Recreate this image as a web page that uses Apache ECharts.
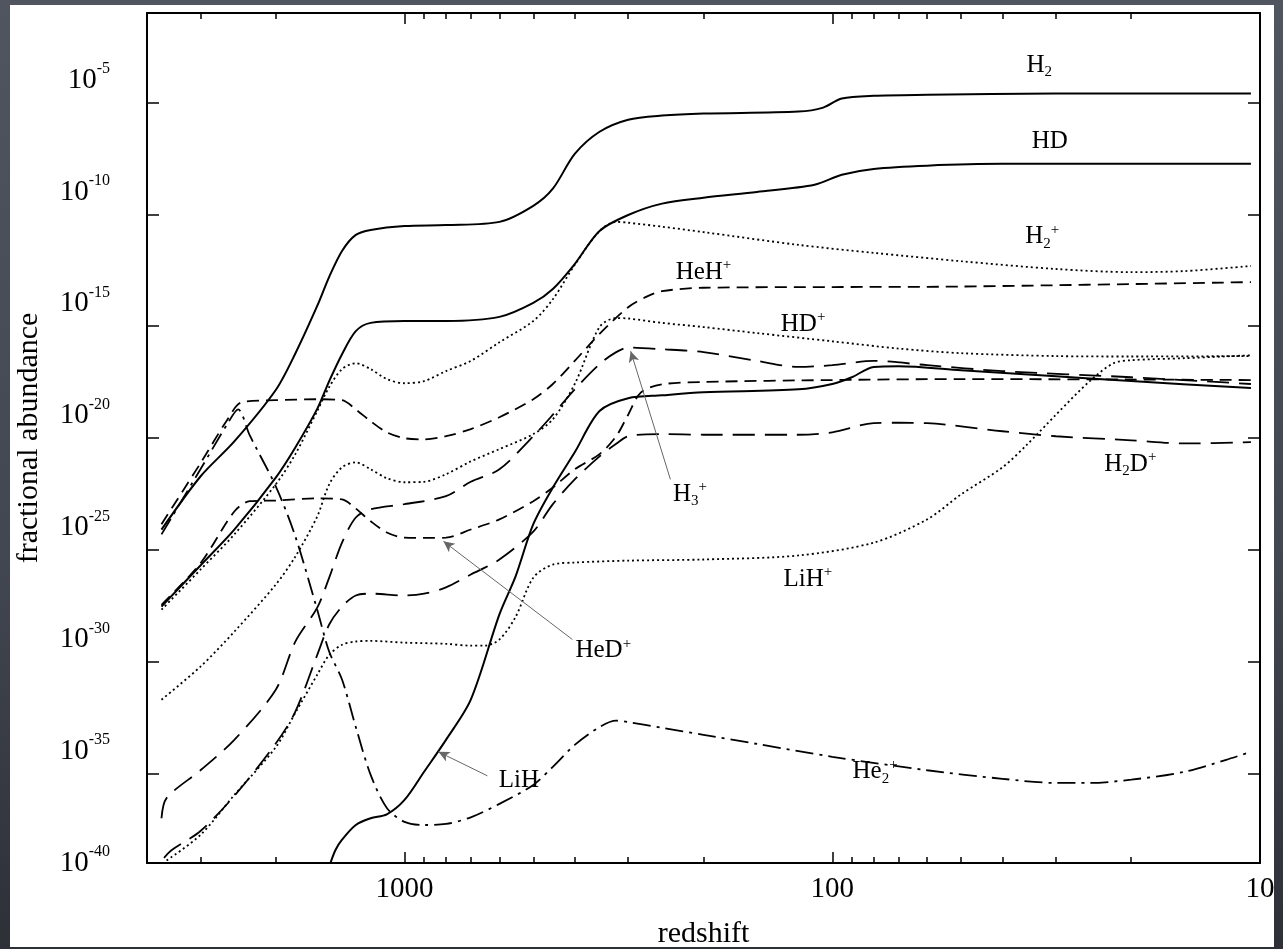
<!DOCTYPE html>
<html><head><meta charset="utf-8">
<script src="https://cdn.jsdelivr.net/npm/echarts@6/dist/echarts.min.js"></script>
<style>
html,body{margin:0;padding:0;width:1283px;height:949px;overflow:hidden;background:linear-gradient(to bottom,#50555f 0%,#424650 60%,#2d3037 100%);}
#panel{position:absolute;left:10px;top:5px;width:1264px;height:942px;background:#fff;}
#chart{position:absolute;left:0;top:0;width:1283px;height:949px;}
</style></head><body><div id="panel"></div><div id="chart"></div>
<script>
// ---- data: [redshift, fractional abundance] ----
const H2 = [[3700,8e-26],[3000,1.9e-23],[2500,7e-22],[2000,1.4e-19],[1800,6e-18],[1600,8e-16],[1500,1.6e-14],[1400,2.3e-13],[1300,1.2e-12],[1200,2e-12],[1000,3e-12],[800,3.3e-12],[600,4.6e-12],[500,2.4e-11],[450,1.4e-10],[400,5e-9],[350,4.9e-8],[300,1.7e-7],[250,2.6e-7],[200,3.2e-7],[120,3.9e-7],[105,5.9e-7],[95,1.5e-6],[80,2e-6],[60,2.2e-6],[30,2.5e-6],[10.5,2.5e-6]];
const HD = [[3700,2.9e-29],[3000,2e-27],[2500,8e-26],[2000,1.7e-23],[1800,3.8e-22],[1600,2e-20],[1500,3.5e-19],[1400,5.6e-18],[1300,6e-17],[1200,1.4e-16],[1000,1.7e-16],[800,1.7e-16],[600,2.6e-16],[500,1.1e-15],[450,4.6e-15],[400,6e-14],[350,1.8e-12],[300,9.3e-12],[250,3e-11],[200,5.5e-11],[150,1e-10],[110,2.1e-10],[95,5.9e-10],[80,1.07e-9],[60,1.5e-9],[40,1.8e-9],[10.5,1.8e-9]];
const H2p = [[3700,2.1e-29],[3000,1.3e-27],[2500,4.9e-26],[2000,8.5e-24],[1800,1.9e-22],[1600,1.6e-20],[1500,1.9e-19],[1400,1.2e-18],[1300,2.2e-18],[1200,1.2e-18],[1100,4.3e-19],[1000,2.8e-19],[900,3.5e-19],[800,9.8e-19],[700,2.8e-18],[600,1.9e-17],[500,1.7e-16],[450,1.6e-15],[400,5.5e-14],[350,1.8e-12],[320,4.6e-12],[300,4.2e-12],[250,2.8e-12],[200,1.6e-12],[120,4.3e-13],[80,1.9e-13],[50,8e-14],[30,3.6e-14],[20,2.6e-14],[15,2.9e-14],[10.5,4.9e-14]];
const HeHp = [[3700,1.4e-25],[3000,7.4e-23],[2600,6.2e-21],[2400,4e-20],[2000,4.9e-20],[1600,5.4e-20],[1400,4.9e-20],[1300,1.9e-20],[1200,5.6e-21],[1100,1.8e-21],[1000,9.8e-22],[900,8.7e-22],[800,1.2e-21],[700,2.5e-21],[600,8.5e-21],[500,5.4e-20],[450,2.6e-19],[400,2.8e-18],[350,4.5e-17],[300,7e-16],[270,2.2e-15],[250,3.7e-15],[200,5.2e-15],[100,5.6e-15],[50,5.9e-15],[10.5,9.3e-15]];
const HDp = [[3700,2e-33],[3000,6e-32],[2500,2.2e-30],[2000,2.8e-28],[1800,5e-27],[1600,3.1e-25],[1500,8.5e-24],[1400,4.9e-23],[1300,8.1e-23],[1200,4e-23],[1100,1.6e-23],[1000,1.05e-23],[900,1.1e-23],[800,2.4e-23],[700,9e-23],[600,3.2e-22],[500,1.5e-21],[450,6.9e-21],[400,2.6e-19],[350,9.1e-17],[320,2.3e-16],[300,2.2e-16],[250,1.4e-16],[200,9.1e-17],[150,4.9e-17],[100,2.1e-17],[70,1e-17],[50,6.2e-18],[30,4.6e-18],[20,4.4e-18],[10.5,4.6e-18]];
const H3p = [[3700,1e-38],[3600,8e-38],[3000,1.4e-36],[2500,3.2e-35],[2000,5.6e-33],[1800,7.9e-31],[1600,2.6e-29],[1500,5.7e-28],[1400,2.1e-26],[1300,2.8e-25],[1200,6.5e-25],[1000,1.1e-24],[800,2.5e-24],[700,1.1e-23],[600,4e-23],[500,1.2e-21],[450,1.1e-20],[400,1.5e-19],[350,2e-18],[320,6.9e-18],[300,1.1e-17],[250,9.3e-18],[200,6.9e-18],[150,2.8e-18],[120,1.5e-18],[100,1.8e-18],[80,2.8e-18],[60,1.8e-18],[40,9.8e-19],[20,5.2e-19],[10.5,2.6e-19]];
const H2Dp = [[3650,1.7e-40],[3500,3.8e-40],[3000,2.7e-39],[2500,1e-37],[2000,2.2e-35],[1800,5.8e-34],[1600,2e-31],[1500,4.6e-30],[1400,2.9e-29],[1300,9.1e-29],[1200,1.1e-28],[1000,9.1e-29],[900,1.1e-28],[800,2.1e-28],[700,7.9e-28],[600,3.7e-27],[500,6.6e-26],[450,1.1e-24],[400,1.4e-23],[350,1.5e-22],[320,5.5e-22],[300,1.2e-21],[250,1.5e-21],[200,1.4e-21],[120,1.4e-21],[100,1.8e-21],[80,4.6e-21],[70,4.8e-21],[60,4.6e-21],[40,2e-21],[30,1.2e-21],[20,7.9e-22],[15,5.7e-22],[10.5,6.5e-22]];
const HeDp = [[3700,3.5e-29],[3000,2.5e-27],[2500,5.2e-25],[2300,1.5e-24],[2000,1.6e-24],[1600,2e-24],[1400,1.8e-24],[1300,7e-25],[1200,1.9e-25],[1100,6e-26],[1000,3.5e-26],[900,3.4e-26],[800,3.5e-26],[700,8.1e-26],[600,2.3e-25],[500,1.5e-24],[450,6.1e-24],[400,4e-23],[350,1.9e-22],[320,1.2e-21],[300,1.1e-20],[280,1.1e-19],[250,2.5e-19],[200,3.2e-19],[100,3.9e-19],[50,4.3e-19],[10.5,3.9e-19]];
const LiHp = [[3600,1.3e-40],[3000,1.8e-39],[2500,1.1e-37],[2000,1.5e-35],[1800,5.2e-34],[1600,2.6e-32],[1500,2e-31],[1400,5.7e-31],[1300,8e-31],[1200,8.5e-31],[1000,7.1e-31],[800,6.3e-31],[700,5.2e-31],[650,5.2e-31],[600,9.8e-31],[550,1e-29],[500,5.7e-28],[450,2.2e-27],[400,2.7e-27],[300,3.3e-27],[200,3.7e-27],[120,5.6e-27],[80,2.1e-26],[60,2.3e-25],[50,3e-24],[40,4.9e-23],[35,5.2e-22],[30,1.1e-20],[25,3.5e-19],[22,2.2e-18],[20,3e-18],[15,3.7e-18],[10.5,5e-18]];
const LiH = [[1490,1e-40],[1450,3.8e-40],[1400,1.1e-39],[1300,5e-39],[1200,1e-38],[1100,1.5e-38],[1000,6.6e-38],[900,1.2e-36],[800,3.2e-35],[700,2e-33],[600,1.3e-29],[550,6.5e-28],[500,1.4e-25],[450,6.1e-24],[400,2.3e-22],[350,1.6e-20],[300,6e-20],[250,8.1e-20],[200,1.1e-19],[120,1.5e-19],[100,2.6e-19],[90,5.2e-19],[80,1.5e-18],[70,1.6e-18],[50,1.07e-18],[30,5.7e-19],[20,3.5e-19],[10.5,1.7e-19]];
const He2p = [[3700,4.9e-26],[3000,4e-23],[2600,4e-21],[2450,1.9e-20],[2300,1.3e-21],[2000,6.9e-24],[1800,4e-26],[1600,2.1e-29],[1500,2.8e-31],[1400,1.6e-32],[1300,1.2e-34],[1200,8.7e-37],[1100,2.9e-38],[1000,6.9e-39],[900,5e-39],[800,5.6e-39],[700,1.1e-38],[600,4.4e-38],[500,3.1e-37],[450,2e-36],[400,1.9e-35],[350,1.2e-34],[320,2.3e-34],[300,2e-34],[250,1.1e-34],[200,5.4e-35],[150,2.1e-35],[100,5.6e-36],[60,1.4e-36],[40,5.8e-37],[30,3.8e-37],[25,3.8e-37],[20,5.3e-37],[15,1.2e-36],[12,4.1e-36],[10.5,9.3e-36]];

// ---- axis ticks / labels ----
const xMajor = [10, 100, 1000];
const xMinor = [20,30,40,50,60,70,80,90,200,300,400,500,600,700,800,900,2000,3000];
const yLabelVals = [1e-40,1e-35,1e-30,1e-25,1e-20,1e-15,1e-10,1e-5];
const yTickVals = [1e-36,1e-31,1e-26,1e-21,1e-16,1e-11,1e-6];

// ---- annotations: text, anchor [z, f] ----
const notes = [
  {t:'{b|H}{sub|2}', at:[32.8,4.5e-5]},
  {t:'{b|HD}', at:[31,1.9e-8]},
  {t:'{b|H}{sub|2}{sup|+}', at:[32.3,9.8e-13]},
  {t:'{b|HeH}{sup|+}', at:[200,2.6e-14]},
  {t:'{b|HD}{sup|+}', at:[117,1.2e-16]},
  {t:'{b|H}{sub|3}{sup|+}', at:[215,3e-24]},
  {t:'{b|H}{sub|2}{b|D}{sup|+}', at:[20.1,6.6e-23]},
  {t:'{b|HeD}{sup|+}', at:[343,3.1e-31]},
  {t:'{b|LiH}{sup|+}', at:[114,4.7e-28]},
  {t:'{b|LiH}', at:[540,4.7e-37]},
  {t:'{b|He}{sub|2}{sup|+}', at:[79.4,1.2e-36]}
];
const arrows = [
  [[239,1.4e-23],[296,7.6e-18]],
  [[405,9.8e-31],[811,2.4e-26]],
  [[640,7.9e-37],[833,9.3e-36]]
];

const FF = '"Liberation Serif","Times New Roman",serif';
const INK = '#000';
const styles = {
  solid:{type:'solid',width:2},
  dot:{type:[2,3],width:1.8},
  dash:{type:[12,7],width:1.8},
  ldash:{type:[22,10],width:1.8},
  dashdot:{type:[18,6,3,6],width:1.8}
};
const curves = [
  ['H2',H2,'solid'],['HD',HD,'solid'],['H2+',H2p,'dot'],['HeH+',HeHp,'dash'],
  ['HD+',HDp,'dot'],['H3+',H3p,'ldash'],['H2D+',H2Dp,'ldash'],['HeD+',HeDp,'dash'],
  ['LiH+',LiHp,'dot'],['LiH',LiH,'solid'],['He2+',He2p,'dashdot']
];

const chart = echarts.init(document.getElementById('chart'), null, {renderer:'canvas'});

function xAx(pos, major, labels) {
  return {
    type:'log', logBase:10, inverse:true, min:10, max:4000, position:pos, gridIndex:0,
    axisLine:{show:major, onZero:false, lineStyle:{color:INK,width:2}},
    axisTick:{show:true, inside:true, length: major?11:6, lineStyle:{color:INK,width:1.5}, customValues: major?xMajor:xMinor},
    axisLabel:{show:labels, customValues:xMajor, formatter:v=>String(Math.round(v)), fontFamily:FF, fontSize:29, color:INK, margin:12},
    splitLine:{show:false}, minorTick:{show:false},
    name: labels ? 'redshift' : '', nameLocation:'middle', nameGap:56,
    nameTextStyle:{fontFamily:FF, fontSize:30, color:INK}
  };
}
function yAx(pos, labels) {
  return {
    type:'log', logBase:10, min:1e-40, max:1e-2, position:pos, gridIndex:0,
    axisLine:{show:true, onZero:false, lineStyle:{color:INK,width:2}},
    axisTick:{show:true, inside:true, length:12, lineStyle:{color:INK,width:1.5}, customValues:yTickVals},
    axisLabel:{show:labels, customValues:yLabelVals, margin:37,
      formatter:v=>'10{s|' + Math.round(Math.log10(v)) + '}',
      fontFamily:FF, fontSize:29, color:INK,
      rich:{s:{fontFamily:FF, fontSize:16, color:INK, padding:[0,0,22,0]}}},
    splitLine:{show:false}, minorTick:{show:false},
    name: labels ? 'fractional abundance' : '', nameLocation:'middle', nameGap:103,
    nameTextStyle:{fontFamily:FF, fontSize:30, color:INK}
  };
}

const rich = {
  b:{fontFamily:FF, fontSize:25, color:INK, opacity:1, textBorderWidth:0},
  sub:{fontFamily:FF, fontSize:15, color:INK, opacity:1, textBorderWidth:0, padding:[14,0,0,0]},
  sup:{fontFamily:FF, fontSize:15, color:INK, opacity:1, textBorderWidth:0, padding:[0,0,14,0]}
};

const series = curves.map(([name,data,st]) => ({
  name, type:'line', xAxisIndex:0, yAxisIndex:0, data,
  showSymbol:false, symbol:'none', smooth:0.3, silent:true, clip:true,
  lineStyle:Object.assign({color:INK, opacity:1}, styles[st])
}));
series.push({
  type:'scatter', xAxisIndex:0, yAxisIndex:0, symbolSize:0, silent:true,
  itemStyle:{color:INK, opacity:1},
  data: notes.map(n => ({value:n.at, label:{formatter:n.t}})),
  label:{show:true, position:'inside', align:'center', verticalAlign:'middle', opacity:1,
    color:INK, textBorderWidth:0, textBorderColor:'transparent', rich},
  markLine:{silent:true, symbol:['none','arrow'], symbolSize:[8,11], label:{show:false},
    lineStyle:{color:'#666', width:1, type:'solid', opacity:1},
    data: arrows.map(a => [{coord:a[0]},{coord:a[1]}])}
});

chart.setOption({
  animation:false,
  backgroundColor:'transparent',
  grid:{left:147, top:13, width:1113, height:850, containLabel:false, outerBoundsMode:'none'},
  xAxis:[xAx('bottom',true,true), xAx('bottom',false,false), xAx('top',true,false), xAx('top',false,false)],
  yAxis:[yAx('left',true), yAx('right',false)],
  series
});
</script>
</body></html>
